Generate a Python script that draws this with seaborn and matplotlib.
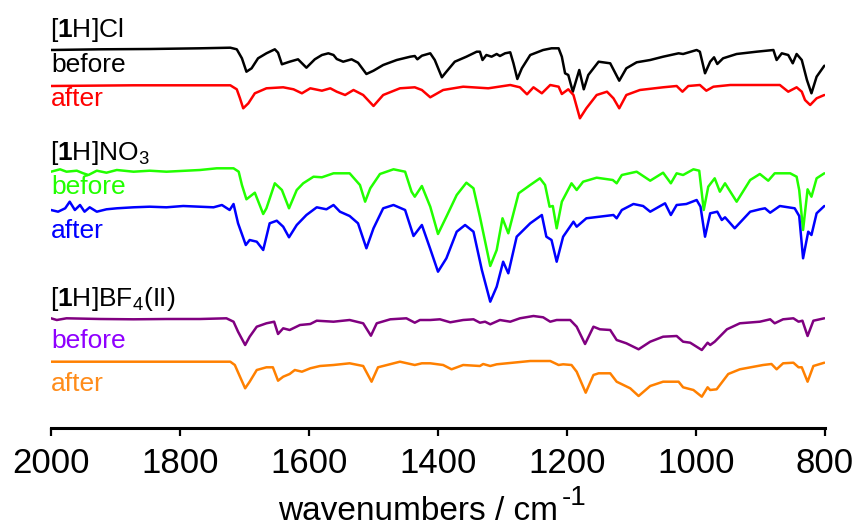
import numpy as np
import pandas as pd
import matplotlib
matplotlib.use("Agg")
import matplotlib.pyplot as plt
import seaborn as sns

# ---- data: wavenumber (cm-1) and stacked signal (a.u., plotted on inverted axis) ----
cl_before_wn = [2000, 1924, 1846, 1769, 1722, 1712, 1704, 1697, 1689, 1679, 1666, 1653, 1648, 1642, 1630,
                1617, 1604, 1591, 1580, 1570, 1562, 1557, 1547, 1534, 1524, 1511, 1500, 1485, 1464, 1443,
                1436, 1432, 1425, 1412, 1405, 1394, 1387, 1374, 1356, 1340, 1335, 1331, 1325, 1317, 1309,
                1304, 1296, 1288, 1283, 1277, 1270, 1257, 1237, 1224, 1213, 1208, 1203, 1198, 1191, 1181,
                1174, 1167, 1151, 1133, 1119, 1108, 1092, 1071, 1051, 1027, 1020, 999, 994, 986, 978,
                972, 967, 958, 937, 906, 880, 875, 867, 857, 850, 844, 836, 828, 821, 813, 801]
cl_before_val = [50, 49.3, 49, 48.3, 47.7, 49.3, 58.3, 71.7, 68.3, 58.3, 53.3, 49.3, 52.7, 64.3, 61.7,
                 59.3, 67.7, 59.3, 55, 53.3, 55, 59, 61.7, 59.3, 62.7, 74, 70.7, 65, 60, 56.7,
                 56, 59.3, 55.7, 53.3, 60, 77.3, 71.7, 61.7, 56.7, 51.7, 51.7, 60, 55, 56.7, 54,
                 56, 53.3, 52.3, 63.3, 79, 68.3, 55, 50, 48.3, 48.3, 56.7, 73.3, 75, 91.7, 70,
                 89.3, 75, 61.7, 63.3, 80.7, 68.3, 62.3, 60, 56.7, 53.3, 54, 50, 51.7, 73.3, 61.7,
                 57.3, 64, 58.3, 54, 51.7, 50, 60, 53.3, 55, 63.3, 54, 60, 80, 93.3, 76.7, 65.7]

cl_after_wn = [2000, 1872, 1722, 1712, 1707, 1702, 1694, 1684, 1666, 1640, 1624, 1611, 1598, 1580, 1567,
               1557, 1544, 1531, 1516, 1500, 1485, 1459, 1436, 1425, 1412, 1392, 1361, 1322, 1288, 1273,
               1262, 1252, 1239, 1226, 1213, 1208, 1198, 1190, 1180, 1170, 1154, 1138, 1128, 1119, 1108,
               1087, 1051, 1030, 1021, 1012, 994, 984, 973, 947, 921, 870, 857, 844, 836, 831, 823, 813, 801]
cl_after_val = [86, 85.3, 85.3, 89.3, 98.3, 108.3, 103.3, 93.3, 88.3, 87.3, 89.3, 93.3, 88.3, 90.7, 88.3,
                91.7, 95, 90, 95, 106, 95, 88.3, 87.3, 90, 97.3, 90, 86.7, 88.3, 85, 87.3,
                94.3, 87.3, 93.3, 85, 86.7, 94, 89.3, 95, 118.3, 108.3, 95, 91.7, 98.3, 108.3, 95,
                90, 87.3, 86, 91.7, 86, 85, 90.7, 86.7, 85, 85, 85, 91.7, 87.3, 91.7, 100, 105, 98.3, 95]

no3_before_wn = [2000, 1986, 1976, 1960, 1950, 1942, 1929, 1914, 1898, 1872, 1847, 1821, 1769, 1743, 1717,
                 1709, 1704, 1697, 1684, 1671, 1666, 1653, 1642, 1631, 1619, 1609, 1593, 1580, 1562, 1537,
                 1521, 1513, 1505, 1490, 1469, 1451, 1441, 1436, 1425, 1412, 1400, 1387, 1371, 1356, 1345,
                 1335, 1319, 1309, 1300, 1291, 1275, 1257, 1242, 1234, 1227, 1222, 1216, 1208, 1193, 1185,
                 1175, 1154, 1129, 1123, 1115, 1092, 1071, 1051, 1039, 1030, 1020, 1004, 995, 988, 981,
                 971, 963, 955, 937, 916, 901, 888, 878, 854, 844, 840, 834, 827, 821, 813, 801]
no3_before_val = [171.7, 169.3, 171.7, 170.7, 173.3, 175, 170.7, 172.7, 170, 171.7, 170.7, 171.7, 170, 168.3, 168.3,
                  171.7, 185, 199.3, 192.7, 214, 208.3, 183.3, 190, 208.3, 190, 183.3, 176.7, 177.3, 173.3, 173.3,
                  185, 201.7, 188.3, 174, 169.3, 171.7, 191.7, 196.7, 186, 206.7, 234, 216.7, 195, 182.7, 188.3,
                  216.7, 266, 250, 218.3, 233.3, 193.3, 185, 178.3, 185, 206.7, 206, 228.3, 201.7, 183.3, 190,
                  181.7, 177.7, 180, 183.3, 175, 171.7, 180.7, 172.7, 183.3, 173.3, 175, 169.3, 170.7, 210, 186.7,
                  178.3, 191.7, 183.3, 201.7, 180, 174, 180.7, 173.3, 173.3, 176.7, 190, 230, 189.3, 196.7, 178.3, 173.3]

no3_after_wn = [2000, 1989, 1978, 1971, 1963, 1955, 1948, 1940, 1929, 1914, 1898, 1872, 1847, 1821, 1795,
                1748, 1735, 1723, 1717, 1710, 1698, 1692, 1681, 1671, 1661, 1650, 1640, 1631, 1619, 1604,
                1588, 1573, 1562, 1552, 1537, 1524, 1511, 1500, 1485, 1469, 1451, 1438, 1425, 1412, 1400,
                1387, 1371, 1358, 1345, 1332, 1319, 1309, 1299, 1291, 1278, 1257, 1239, 1232, 1224, 1216,
                1206, 1190, 1185, 1170, 1128, 1123, 1115, 1097, 1082, 1071, 1048, 1039, 1030, 1015, 999,
                993, 986, 978, 967, 960, 955, 940, 916, 901, 893, 885, 870, 847, 840, 834, 826, 821, 813, 801]
no3_after_val = [210, 211.7, 208.3, 201.7, 210, 205, 211.7, 207.3, 211.7, 209.3, 208.3, 207.3, 206.7, 207.3, 206,
                 207.3, 205, 210, 204, 223.3, 245, 240, 241.7, 250, 223.3, 220.7, 226.7, 237.3, 225, 215,
                 207.3, 209.3, 205, 211.7, 216, 223.3, 248.3, 228.3, 208.3, 205, 210, 236, 225, 249, 271.7,
                 258.3, 231.7, 225, 231.7, 270, 301.7, 286.7, 261.7, 273.3, 236.7, 223.3, 215, 236.7, 240, 261.7,
                 236.7, 221.7, 226.7, 218.3, 215, 218.3, 210, 204, 206, 211.7, 203.3, 215, 205, 204, 200,
                 206.7, 236.7, 213.3, 211.7, 220, 217.3, 228.3, 211.7, 209.3, 208.3, 212.7, 206, 208.3, 216, 258.3, 231.7, 235, 213.3, 206]

bf4_before_wn = [2000, 1991, 1976, 1924, 1872, 1821, 1769, 1728, 1717, 1710, 1699, 1692, 1681, 1666, 1654,
                 1648, 1640, 1630, 1614, 1598, 1588, 1562, 1537, 1516, 1504, 1495, 1474, 1449, 1436, 1428,
                 1412, 1397, 1381, 1361, 1345, 1335, 1327, 1319, 1304, 1288, 1273, 1252, 1237, 1226, 1216,
                 1195, 1185, 1172, 1159, 1149, 1133, 1123, 1108, 1089, 1071, 1051, 1030, 1020, 1009, 991,
                 982, 978, 971, 952, 932, 901, 885, 878, 865, 849, 841, 835, 827, 818, 801]
bf4_before_val = [318.3, 320, 318.3, 319, 319.3, 319, 319, 318.3, 321.7, 331.7, 345, 336.7, 326.7, 323.3, 321.7,
                  334, 328.3, 330, 325, 324, 320.7, 321.7, 320, 323.3, 335.7, 323.3, 319.3, 318.3, 322.7, 320,
                  320, 319.3, 322.3, 320, 319.3, 322.7, 321.7, 324.3, 320, 321.7, 318.3, 316, 317.3, 321.7, 320,
                  320, 326.7, 344, 326.7, 329.3, 330, 340, 343.3, 349.3, 341.7, 336.7, 336, 341.7, 342.7, 350,
                  342.7, 345, 341.7, 329.3, 323.3, 321.7, 319.3, 323.3, 319.3, 318.3, 321.7, 320.7, 336, 320.7, 318.3]

bf4_after_wn = [2000, 1949, 1872, 1821, 1769, 1722, 1715, 1707, 1699, 1692, 1681, 1666, 1656, 1648, 1640,
                1630, 1622, 1611, 1598, 1583, 1562, 1537, 1516, 1503, 1493, 1459, 1436, 1425, 1412, 1392,
                1379, 1361, 1335, 1330, 1319, 1309, 1268, 1257, 1226, 1213, 1206, 1193, 1185, 1171, 1159,
                1151, 1133, 1123, 1102, 1089, 1071, 1051, 1027, 1020, 1004, 991, 982, 978, 968, 950,
                932, 896, 883, 875, 865, 849, 841, 836, 827, 818, 801]
bf4_after_val = [361.7, 361.7, 361.7, 361.7, 361.7, 361.7, 365, 376.7, 388.3, 381.7, 370, 367.3, 367.3, 380.7, 376.7,
                 374, 370, 371.7, 368.3, 366, 365, 363.3, 366, 381.7, 367.3, 361.7, 365, 363.3, 363.3, 365,
                 369.3, 365, 366, 364, 366, 364.3, 361.7, 361, 361, 365, 364.3, 365, 371.7, 392.7, 375,
                 373.3, 373.3, 381.7, 388.3, 396, 386, 381.7, 381.7, 387.3, 390, 396.7, 387.3, 390, 389.3, 374,
                 369.3, 365, 364, 369.3, 363.3, 362.7, 367.3, 367.3, 381.7, 366, 362.7]

series_names = ["Cl before", "Cl after", "NO3 before", "NO3 after", "BF4 before", "BF4 after"]
line_colors = ["#000000", "#ff0000", "#22ff00", "#0000ff", "#800080", "#ff8000"]
label_colors = ["#000000", "#ff0000", "#22ff00", "#0000ff", "#8f00ff", "#ff8c1a"]
tick_values = [2000, 1800, 1600, 1400, 1200, 1000, 800]

frames = []
for name, wn, val in zip(series_names,
                         [cl_before_wn, cl_after_wn, no3_before_wn, no3_after_wn, bf4_before_wn, bf4_after_wn],
                         [cl_before_val, cl_after_val, no3_before_val, no3_after_val, bf4_before_val, bf4_after_val]):
    frames.append(pd.DataFrame({"wn": wn, "val": val, "series": name}))
df = pd.concat(frames, ignore_index=True)

sns.set_theme(style="white")
plt.rcParams["font.family"] = ["Liberation Sans", "DejaVu Sans"]
plt.rcParams["mathtext.fontset"] = "custom"
plt.rcParams["mathtext.rm"] = "Liberation Sans"
plt.rcParams["mathtext.it"] = "Liberation Sans:italic"
plt.rcParams["mathtext.bf"] = "Liberation Sans:bold"
plt.rcParams["text.color"] = "black"
plt.rcParams["xtick.color"] = "black"
plt.rcParams["axes.labelcolor"] = "black"

fig = plt.figure(figsize=(8.57, 5.28), dpi=100)
ax = fig.add_axes([51 / 857, 100 / 528, 774 / 857, 428 / 528])

sns.lineplot(data=df, x="wn", y="val", hue="series", hue_order=series_names,
             palette=line_colors, linewidth=1.8, legend=False, sort=False,
             estimator=None, ax=ax)

ax.set_xlim(2000, 800)
ax.set_ylim(428, 0)
ax.set_yticks([])
ax.set_ylabel("")
ax.set_xticks(tick_values)
ax.set_xticklabels([str(t) for t in tick_values])
for s in ["top", "left", "right"]:
    ax.spines[s].set_visible(False)
ax.spines["bottom"].set_linewidth(2.2)
ax.spines["bottom"].set_color("black")
ax.tick_params(axis="x", direction="out", length=6, width=1.6, color="black",
               labelcolor="black", labelsize=25, pad=7.5, bottom=True)
ax.set_xlabel("wavenumbers / cm", fontsize=24, color="black")
ax.xaxis.set_label_coords(0.4748, -0.158)
# superscript "-1" attached to the end of the axis label
ax.annotate("-1", xy=(1, 1), xycoords=ax.xaxis.label, xytext=(2, -6.5),
            textcoords="offset points", ha="left", va="baseline", fontsize=20, color="black")

# group titles and labels
titles = [r"[$\mathbf{1}$H]Cl", r"[$\mathbf{1}$H]NO$_3$", r"[$\mathbf{1}$H]BF$_4$(II)"]
title_y = [37, 160, 306]
for t, y in zip(titles, title_y):
    ax.text(2001, y, t, fontsize=19, color="black", ha="left", va="baseline")

label_texts = ["before", "after", "before", "after", "before", "after"]
label_y = [72.5, 106, 194, 238, 348, 391.5]
for t, y, c in zip(label_texts, label_y, label_colors):
    ax.text(2000, y, t, fontsize=19, color=c, ha="left", va="baseline")

fig.savefig("out.png", dpi=100)
